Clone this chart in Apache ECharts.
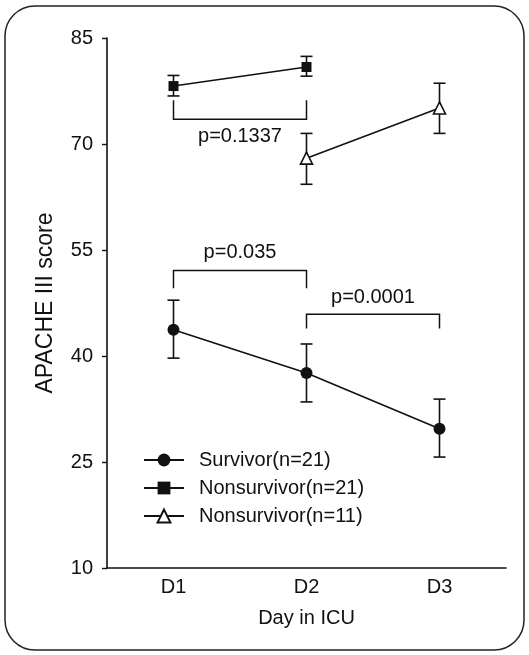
<!DOCTYPE html>
<html>
<head>
<meta charset="utf-8">
<script src="https://cdn.jsdelivr.net/npm/echarts@6/dist/echarts.min.js"></script>
<style>
  html, body { margin: 0; padding: 0; background: #fff; }
  #chart { width: 529px; height: 655px; }
</style>
</head>
<body>
<div id="chart"></div>
<script>
// chart data
var days = ['D1', 'D2', 'D3'];
var yTicks = [10, 25, 40, 55, 70, 85];

// [dayIndex, mean, low, high]
var survivor21 = [[0, 43.7, 39.7, 47.9], [1, 37.6, 33.5, 41.7], [2, 29.7, 25.7, 33.9]];
var nonsurvivor21 = [[0, 78.2, 76.8, 79.7], [1, 80.9, 79.6, 82.4]];
var nonsurvivor11 = [[1, 68.0, 64.3, 71.5], [2, 75.1, 71.5, 78.6]];

// [fromDay, toDay, barValue, endValue, labelValue, label]
var brackets = [
  [0, 1, 73.5, 76.2, 71.0, 'p=0.1337'],
  [0, 1, 52.1, 49.6, 54.6, 'p=0.035'],
  [1, 2, 45.9, 43.9, 48.3, 'p=0.0001']
];

var ink = '#111';
var font = '"Liberation Sans", Arial, sans-serif';

function meanLine(rows) {
  return rows.map(function (r) { return [r[0], r[1]]; });
}

function errorBars(rows) {
  return {
    type: 'custom',
    silent: true,
    z: 3,
    data: rows.map(function (r) { return [r[0], r[2], r[3]]; }),
    renderItem: function (params, api) {
      var lo = api.coord([api.value(0), api.value(1)]);
      var hi = api.coord([api.value(0), api.value(2)]);
      var cap = 6;
      var st = { stroke: ink, lineWidth: 1.6 };
      return {
        type: 'group',
        children: [
          { type: 'line', shape: { x1: lo[0], y1: lo[1], x2: hi[0], y2: hi[1] }, style: st },
          { type: 'line', shape: { x1: lo[0] - cap, y1: lo[1], x2: lo[0] + cap, y2: lo[1] }, style: st },
          { type: 'line', shape: { x1: hi[0] - cap, y1: hi[1], x2: hi[0] + cap, y2: hi[1] }, style: st }
        ]
      };
    }
  };
}

var chart = echarts.init(document.getElementById('chart'));

chart.setOption({
  animation: false,
  backgroundColor: '#fff',
  textStyle: { fontFamily: font, color: ink },
  graphic: [{
    type: 'rect',
    shape: { x: 5, y: 6, width: 519, height: 644, r: 30 },
    style: { fill: 'none', stroke: '#222', lineWidth: 1.5 },
    silent: true
  }],
  grid: { left: 107, right: 23, top: 38, bottom: 87 },
  legend: {
    orient: 'vertical',
    left: 143,
    top: 450,
    padding: 0,
    itemWidth: 40,
    itemHeight: 16,
    itemGap: 8,
    textStyle: { fontFamily: font, fontSize: 20, color: ink, padding: [0, 0, 0, 10] },
    data: ['Survivor(n=21)', 'Nonsurvivor(n=21)', 'Nonsurvivor(n=11)']
  },
  xAxis: {
    type: 'category',
    data: days,
    boundaryGap: true,
    name: 'Day in ICU',
    nameLocation: 'middle',
    nameGap: 40,
    nameTextStyle: { fontFamily: font, fontSize: 20, color: ink },
    axisLine: { lineStyle: { color: ink, width: 1.6 } },
    axisTick: { inside: true, length: 5, lineStyle: { color: ink, width: 1.4 } },
    axisLabel: { fontFamily: font, fontSize: 20, color: ink, margin: 9 },
    splitLine: { show: false }
  },
  yAxis: {
    type: 'value',
    min: yTicks[0],
    max: yTicks[yTicks.length - 1],
    interval: yTicks[1] - yTicks[0],
    name: 'APACHE III score',
    nameLocation: 'middle',
    nameGap: 50,
    nameTextStyle: { fontFamily: font, fontSize: 23, color: ink },
    axisLine: { show: true, lineStyle: { color: ink, width: 1.6 } },
    axisTick: { show: true, length: 5, lineStyle: { color: ink, width: 1.4 } },
    axisLabel: { fontFamily: font, fontSize: 20, color: ink, margin: 14 },
    splitLine: { show: false }
  },
  series: [
    {
      name: 'Survivor(n=21)',
      type: 'line',
      z: 4,
      data: meanLine(survivor21),
      symbol: 'circle',
      symbolSize: 12,
      itemStyle: { color: ink },
      lineStyle: { color: ink, width: 1.6 }
    },
    {
      name: 'Nonsurvivor(n=21)',
      type: 'line',
      z: 4,
      data: meanLine(nonsurvivor21),
      symbol: 'rect',
      symbolSize: 10,
      itemStyle: { color: ink },
      lineStyle: { color: ink, width: 1.6 }
    },
    {
      name: 'Nonsurvivor(n=11)',
      type: 'line',
      z: 4,
      data: meanLine(nonsurvivor11),
      symbol: 'triangle',
      symbolSize: 12,
      itemStyle: { color: '#fff', borderColor: ink, borderWidth: 1.6 },
      lineStyle: { color: ink, width: 1.6 }
    },
    errorBars(survivor21),
    errorBars(nonsurvivor21),
    errorBars(nonsurvivor11),
    {
      type: 'custom',
      silent: true,
      z: 2,
      data: brackets,
      renderItem: function (params, api) {
        var b = brackets[params.dataIndex];
        var a1 = api.coord([b[0], b[2]]);
        var a2 = api.coord([b[1], b[2]]);
        var e1 = api.coord([b[0], b[3]]);
        var t = api.coord([b[0], b[4]]);
        var mid = (a1[0] + a2[0]) / 2;
        return {
          type: 'group',
          children: [
            {
              type: 'polyline',
              shape: { points: [[a1[0], e1[1]], [a1[0], a1[1]], [a2[0], a1[1]], [a2[0], e1[1]]] },
              style: { fill: 'none', stroke: ink, lineWidth: 1.5 }
            },
            {
              type: 'text',
              style: {
                x: mid, y: t[1], text: b[5],
                align: 'center', verticalAlign: 'middle',
                font: '20px ' + font, fill: ink
              }
            }
          ]
        };
      }
    }
  ]
});
</script>
</body>
</html>
